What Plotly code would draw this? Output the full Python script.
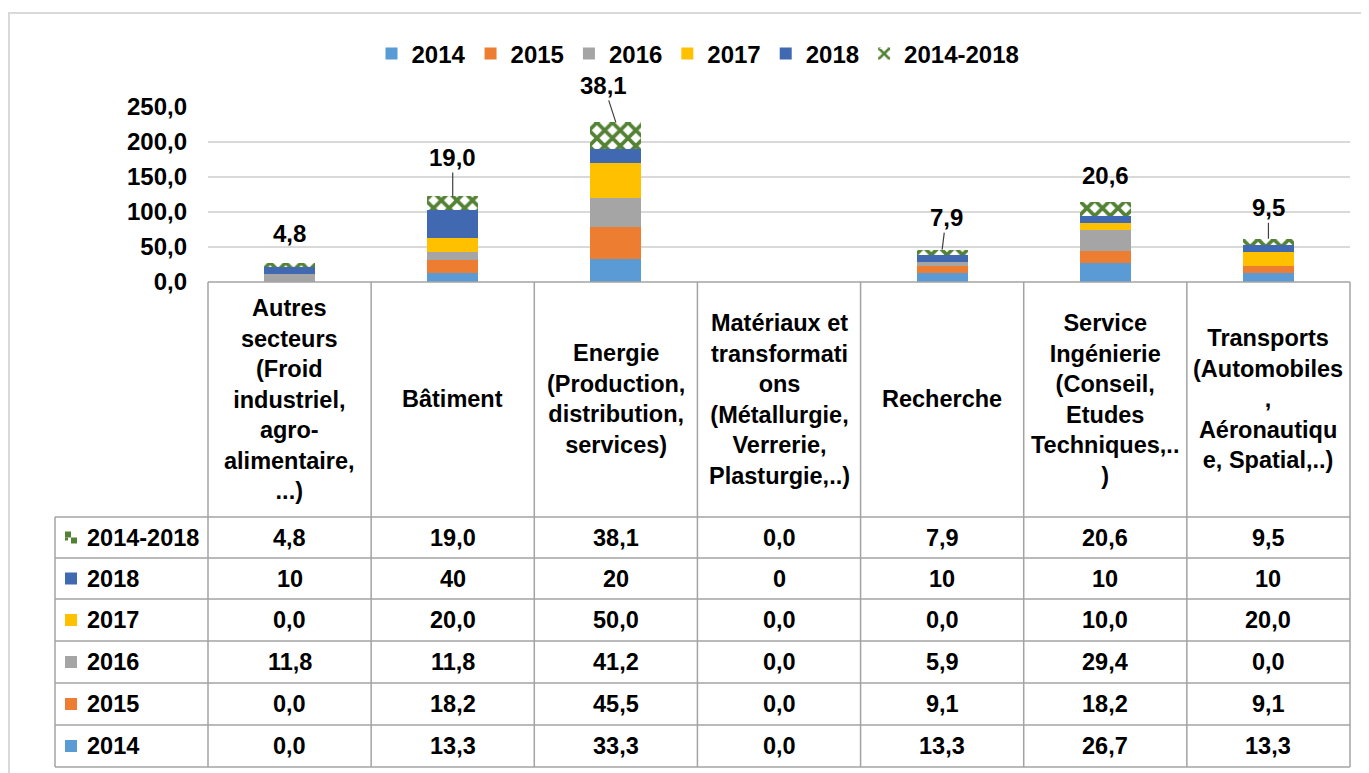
import plotly.graph_objects as go

# ---------------- data ----------------
categories = [
    "Autres secteurs (Froid industriel, agro-alimentaire, ...)",
    "Bâtiment",
    "Energie (Production, distribution, services)",
    "Matériaux et transformations (Métallurgie, Verrerie, Plasturgie,..)",
    "Recherche",
    "Service Ingénierie (Conseil, Etudes Techniques,..)",
    "Transports (Automobiles, Aéronautique, Spatial,..)",
]
category_labels = [
    "Autres<br>secteurs<br>(Froid<br>industriel,<br>agro-<br>alimentaire,<br>...)",
    "Bâtiment",
    "Energie<br>(Production,<br>distribution,<br>services)",
    "Matériaux et<br>transformati<br>ons<br>(Métallurgie,<br>Verrerie,<br>Plasturgie,..)",
    "Recherche",
    "Service<br>Ingénierie<br>(Conseil,<br>Etudes<br>Techniques,..<br>)",
    "Transports<br>(Automobiles<br>,<br>Aéronautiqu<br>e, Spatial,..)",
]
series_names = ["2014", "2015", "2016", "2017", "2018", "2014-2018"]
v2014 = [0.0, 13.3, 33.3, 0.0, 13.3, 26.7, 13.3]
v2015 = [0.0, 18.2, 45.5, 0.0, 9.1, 18.2, 9.1]
v2016 = [11.8, 11.8, 41.2, 0.0, 5.9, 29.4, 0.0]
v2017 = [0.0, 20.0, 50.0, 0.0, 0.0, 10.0, 20.0]
v2018 = [10, 40, 20, 0, 10, 10, 10]
v2014_2018 = [4.8, 19.0, 38.1, 0.0, 7.9, 20.6, 9.5]
series_values = [v2014, v2015, v2016, v2017, v2018, v2014_2018]
table_decimals = [1, 1, 1, 1, 0, 1]  # 2018 row is shown without decimals
y_ticks = [0, 50, 100, 150, 200, 250]

# ---------------- style ----------------
colors = ["#5B9BD5", "#ED7D31", "#A5A5A5", "#FFC000", "#4169B2", "#548235"]
VW, VH = 1369, 773          # window size
BODY = 8                    # default page body margin
W, H = VW - BODY, VH - BODY  # figure size so it fits the window
FONT = "Liberation Sans"
FS = 23.5
GRID = "#d9d9d9"
TLINE = "#a3a3a3"

def px(x):
    return (x - BODY) / W

def py(y):
    return 1 - (y - BODY) / H

plot_x0, plot_x1 = 208, 1350
plot_y_top, plot_y_bot = 107, 282
table_x0 = 55
row_edges = [517, 558, 599, 641, 683, 725, 767]

fig = go.Figure()
for i, (name, vals) in enumerate(zip(series_names, series_values)):
    marker = dict(color=colors[i], line=dict(width=0))
    if name == "2014-2018":
        marker = dict(
            color="white",
            line=dict(width=0),
            pattern=dict(shape="x", fgcolor=colors[i], bgcolor="white",
                         size=11, solidity=0.55, fillmode="replace"),
        )
    fig.add_trace(go.Bar(
        x=categories, y=vals, name=name, marker=marker,
        hoverinfo="skip",
    ))

# data labels for the 2014-2018 series
totals = [sum(s[k] for s in series_values) for k in range(len(categories))]
label_offsets = [(0, -30), (0, -39), (-12, -37), (0, 0), (4, -32), (0, -26), (0, -31)]
leader = [False, True, True, False, True, False, True]
for k, cat in enumerate(categories):
    if series_values[5][k] == 0:
        continue
    ax, ay = label_offsets[k]
    fig.add_annotation(
        x=cat, y=totals[k], xref="x", yref="y",
        text=f"{series_values[5][k]:.1f}".replace(".", ","),
        showarrow=True, arrowhead=0, arrowwidth=1.2,
        arrowcolor="#404040" if leader[k] else "rgba(0,0,0,0)",
        ax=ax, ay=ay, standoff=0,
        font=dict(family=FONT, size=24, color="black", weight="bold"),
    )

# category labels in the table header
for k, cat in enumerate(categories):
    fig.add_annotation(
        x=cat, xref="x", y=py((plot_y_bot + row_edges[0]) / 2), yref="paper",
        text=category_labels[k], showarrow=False, align="center",
        yanchor="middle", xanchor="center",
        font=dict(family=FONT, size=FS, color="black", weight="bold"),
    )

# table rows (top row = last series)
shapes = []
cell_w = (plot_x1 - plot_x0) / len(categories)
for r, si in enumerate(reversed(range(len(series_names)))):
    yc = (row_edges[r] + row_edges[r + 1]) / 2
    fig.add_annotation(
        x=px(85), xref="paper", y=py(yc), yref="paper", text=series_names[si],
        showarrow=False, xanchor="left", yanchor="middle",
        font=dict(family=FONT, size=FS, color="black", weight="bold"),
    )
    # legend key
    if series_names[si] == "2014-2018":
        for (a, b, c, d) in [(65, 71, yc - 6, yc), (71, 77, yc, yc + 6), (65, 68, yc + 3, yc)]:
            shapes.append(dict(type="rect", xref="paper", yref="paper",
                               x0=px(a), x1=px(b), y0=py(c), y1=py(d),
                               fillcolor=colors[si], line=dict(width=0)))
    else:
        shapes.append(dict(type="rect", xref="paper", yref="paper",
                           x0=px(65), x1=px(77), y0=py(yc - 6), y1=py(yc + 6),
                           fillcolor=colors[si], line=dict(width=0)))
    for k, cat in enumerate(categories):
        v = series_values[si][k]
        txt = f"{v:.{table_decimals[si]}f}".replace(".", ",")
        fig.add_annotation(
            x=cat, xref="x", y=py(yc), yref="paper", text=txt,
            showarrow=False, xanchor="center", yanchor="middle",
            font=dict(family=FONT, size=FS, color="black", weight="bold"),
        )

# table grid lines
for ye in row_edges:
    shapes.append(dict(type="line", xref="paper", yref="paper",
                       x0=px(table_x0), x1=px(plot_x1), y0=py(ye), y1=py(ye),
                       line=dict(color=TLINE, width=1.5)))
shapes.append(dict(type="line", xref="paper", yref="paper",
                   x0=px(plot_x0), x1=px(plot_x1), y0=py(plot_y_bot), y1=py(plot_y_bot),
                   line=dict(color=TLINE, width=1.5)))
shapes.append(dict(type="line", xref="paper", yref="paper",
                   x0=px(table_x0), x1=px(table_x0), y0=py(row_edges[0]), y1=py(row_edges[-1]),
                   line=dict(color=TLINE, width=1.5)))
for c in range(len(categories) + 1):
    xe = plot_x0 + c * cell_w
    shapes.append(dict(type="line", xref="paper", yref="paper",
                       x0=px(xe), x1=px(xe), y0=py(plot_y_bot), y1=py(row_edges[-1]),
                       line=dict(color=TLINE, width=1.5)))
# chart border
shapes.append(dict(type="rect", xref="paper", yref="paper",
                   x0=px(9), x1=px(1385), y0=py(13), y1=py(800),
                   line=dict(color=GRID, width=2), fillcolor="rgba(0,0,0,0)"))

fig.update_layout(
    width=W, height=H, autosize=False,
    margin=dict(l=0, r=0, t=0, b=0, autoexpand=False),
    paper_bgcolor="white", plot_bgcolor="white",
    barmode="stack", bargap=0.687,
    separators=", ",
    font=dict(family=FONT, size=FS, color="black"),
    shapes=shapes,
    legend=dict(
        orientation="h", x=px(698), xanchor="center", y=py(54), yanchor="middle",
        traceorder="normal",
        font=dict(family=FONT, size=24, color="black", weight="bold"),
        itemclick=False, itemdoubleclick=False,
    ),
    xaxis=dict(
        domain=[px(plot_x0), px(plot_x1)], showticklabels=False, showgrid=False,
        zeroline=False, showline=False, ticks="", fixedrange=True, automargin=False,
    ),
    yaxis=dict(
        domain=[py(plot_y_bot), py(plot_y_top)], range=[0, 250],
        tickvals=y_ticks, tickformat=".1f", showgrid=True, gridcolor=GRID, gridwidth=2,
        zeroline=False, showline=False, ticks="", automargin=False,
        ticklabelstandoff=20,
        tickfont=dict(family=FONT, size=24, color="black", weight="bold"),
        fixedrange=True,
    ),
)

fig.write_html("out.html")
